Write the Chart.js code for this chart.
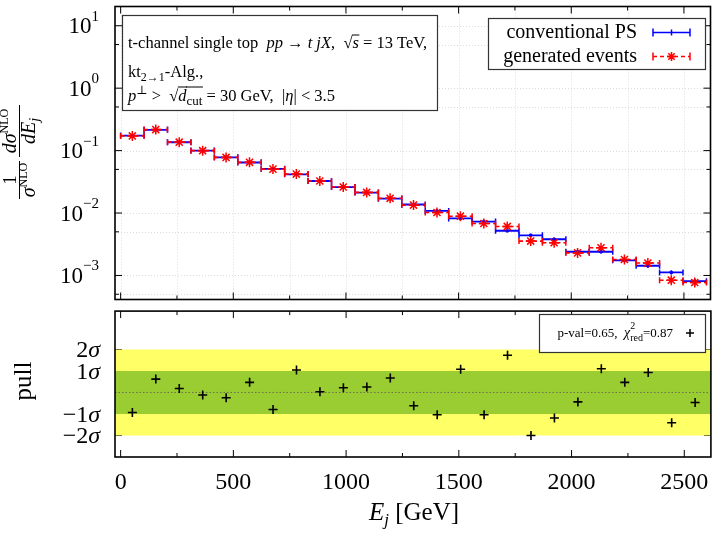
<!DOCTYPE html>
<html><head><meta charset="utf-8">
<script src="https://cdn.jsdelivr.net/npm/chart.js@4.4.0/dist/chart.umd.min.js"></script>
<style>
html,body{margin:0;padding:0;background:#fff;width:717px;height:536px;overflow:hidden}
canvas{position:absolute;left:0}
</style></head>
<body>
<canvas id="cTop" width="717" height="306" style="top:0px"></canvas>
<canvas id="cBot" width="717" height="231" style="top:305px"></canvas>
<script>
// ---------------- data ----------------
const binEdges = [0,104,208,312,416,520,624,728,832,936,1040,1144,1248,1352,1456,1560,1664,1768,1872,1976,2080,2184,2288,2392,2496,2600];
const convPS  = [0.174,0.215,0.136,0.100,0.078,0.0645,0.051,0.0417,0.0326,0.0260,0.0213,0.0170,0.0137,0.0108,0.0082,0.0073,0.0052,0.0044,0.0038,0.0024,0.0024,0.00175,0.00143,0.00112,0.00081];
const convErr = [0.0015,0.0017,0.0012,0.0009,0.0008,0.0007,0.0006,0.0005,0.00045,0.0004,0.00035,0.0003,0.00028,0.00025,0.00022,0.0002,0.00018,0.00016,0.00015,0.00012,0.00012,0.0001,0.00009,0.00008,0.00006];
const genEv   = [0.172,0.217,0.1365,0.0998,0.0778,0.0648,0.0505,0.0420,0.0326,0.0261,0.0214,0.0172,0.0134,0.0102,0.0089,0.0068,0.0061,0.00355,0.00335,0.00230,0.00278,0.00180,0.00158,0.00084,0.00077];
const genErr  = [0.0025,0.003,0.002,0.0015,0.0012,0.001,0.0009,0.0008,0.0007,0.0006,0.0005,0.00045,0.0004,0.00035,0.0003,0.00028,0.00025,0.0002,0.0002,0.00016,0.00018,0.00014,0.00013,0.0001,0.0001];
const pullVals = [-0.93,0.62,0.18,-0.12,-0.25,0.47,-0.79,1.04,0.03,0.22,0.25,0.67,-0.62,-1.04,1.08,-1.04,1.73,-2.0,-1.19,-0.44,1.10,0.47,0.93,-1.41,-0.47];
const xMajorTicks = [0,500,1000,1500,2000,2500];
const xMinorTicks = [250,750,1250,1750,2250];
const yMajorTicks = [1e-3,1e-2,1e-1,1,10];
const yMajorExp   = ['\u22123','\u22122','\u22121','0','1'];
const yMinorTicks = [5e-4,5e-3,5e-2,0.5,5];
const pullTicks = [-2,-1,1,2];
const pullTickLabels = ['\u22122','\u22121','1','2'];
const legendLabels = ['conventional PS','generated events'];
const pullLegend = {pval:'0.65', chi2:'0.87'};

// ---------------- axis ranges ----------------
const X_MIN = -25, X_MAX = 2618;
const Y_MIN = Math.pow(10,-3.385), Y_MAX = Math.pow(10,1.308);
const P_MIN = -3, P_MAX = 3.78;

const BLUE = '#0000ff', RED = '#ff0000';
const SER = '"Liberation Serif","DejaVu Serif",serif';
const fnt = (sz, st) => (st ? st + ' ' : '') + sz + 'px ' + SER;

const centers = binEdges.slice(0,-1).map((e,i)=>(e+binEdges[i+1])/2);
function stepData(vals){
  const d=[];
  vals.forEach((v,i)=>{ d.push({x:binEdges[i],y:v}); d.push({x:binEdges[i+1],y:v}); d.push({x:binEdges[i+1],y:null}); });
  return d;
}

// rich text: segs = [{t, f, dy, ov}]
function drawRich(ctx, x, y, segs, align){
  let w=0; segs.forEach(s=>{ctx.font=s.f; s.w=ctx.measureText(s.t).width; w+=s.w;});
  let cx = align==='right'? x-w : align==='center'? x-w/2 : x;
  ctx.textBaseline='alphabetic'; ctx.textAlign='left';
  segs.forEach(s=>{
    ctx.font=s.f; ctx.fillText(s.t, cx, y+(s.dy||0));
    if(s.ov!==undefined){ ctx.save(); ctx.lineWidth=1; ctx.beginPath(); ctx.moveTo(cx-0.5, y-s.ov); ctx.lineTo(cx+s.w+0.5, y-s.ov); ctx.stroke(); ctx.restore(); }
    cx+=s.w;
  });
  return w;
}
const S=(t,f,dy,ov)=>({t,f,dy,ov});

function starAt(ctx,x,y,r){
  ctx.beginPath();
  ctx.moveTo(x-r,y); ctx.lineTo(x+r,y); ctx.moveTo(x,y-r); ctx.lineTo(x,y+r);
  const k=r*0.7071; ctx.moveTo(x-k,y-k); ctx.lineTo(x+k,y+k); ctx.moveTo(x-k,y+k); ctx.lineTo(x+k,y-k);
  ctx.stroke();
}

function drawXTicks(ctx, xs, area, top, bottom){
  ctx.save(); ctx.strokeStyle='#000'; ctx.lineWidth=1;
  ctx.beginPath();
  xMajorTicks.forEach(v=>{const p=xs.getPixelForValue(v); if(top){ctx.moveTo(p,area.top);ctx.lineTo(p,area.top+7);} if(bottom){ctx.moveTo(p,area.bottom);ctx.lineTo(p,area.bottom-7);} });
  xMinorTicks.forEach(v=>{const p=xs.getPixelForValue(v); if(top){ctx.moveTo(p,area.top);ctx.lineTo(p,area.top+4);} if(bottom){ctx.moveTo(p,area.bottom);ctx.lineTo(p,area.bottom-4);} });
  ctx.stroke(); ctx.restore();
}
function drawFrame(ctx, area){
  ctx.save(); ctx.strokeStyle='#000'; ctx.lineWidth=1.6;
  ctx.strokeRect(area.left, area.top, area.right-area.left, area.bottom-area.top);
  ctx.restore();
}

// ---------------- top panel ----------------
const topPlugin = {
  id:'topPanel',
  beforeDatasetsDraw(chart){
    const {ctx, chartArea:a, scales:{x,y}} = chart;
    ctx.save(); ctx.strokeStyle='rgba(170,170,170,0.4)'; ctx.lineWidth=1; ctx.setLineDash([1,2]);
    ctx.beginPath();
    xMajorTicks.concat(xMinorTicks).forEach(v=>{const p=Math.round(x.getPixelForValue(v))+0.5; ctx.moveTo(p,a.top); ctx.lineTo(p,a.bottom);});
    yMajorTicks.concat(yMinorTicks).forEach(v=>{const p=Math.round(y.getPixelForValue(v))+0.5; if(p>a.top&&p<a.bottom){ctx.moveTo(a.left,p); ctx.lineTo(a.right,p);} });
    ctx.stroke(); ctx.restore();
  },
  afterDatasetsDraw(chart){
    const {ctx, scales:{x,y}} = chart;
    ctx.save(); ctx.lineWidth=1.5;
    ctx.strokeStyle=BLUE; ctx.beginPath();
    centers.forEach((c,i)=>{const px=x.getPixelForValue(c); ctx.moveTo(px,y.getPixelForValue(convPS[i]-convErr[i])); ctx.lineTo(px,y.getPixelForValue(convPS[i]+convErr[i]));});
    ctx.stroke();
    ctx.strokeStyle=RED; ctx.beginPath();
    centers.forEach((c,i)=>{const px=x.getPixelForValue(c); ctx.moveTo(px,y.getPixelForValue(genEv[i]-genErr[i])); ctx.lineTo(px,y.getPixelForValue(genEv[i]+genErr[i]));});
    ctx.stroke(); ctx.restore();
  },
  afterDraw(chart){
    const {ctx, chartArea:a, scales:{x,y}} = chart;
    drawFrame(ctx,a);
    drawXTicks(ctx,x,a,true,true);
    // y ticks
    ctx.save(); ctx.strokeStyle='#000'; ctx.lineWidth=1; ctx.beginPath();
    yMajorTicks.forEach(v=>{const p=y.getPixelForValue(v); ctx.moveTo(a.left,p);ctx.lineTo(a.left+7,p); ctx.moveTo(a.right,p);ctx.lineTo(a.right-7,p);});
    yMinorTicks.forEach(v=>{const p=y.getPixelForValue(v); if(p>a.top&&p<a.bottom){ctx.moveTo(a.left,p);ctx.lineTo(a.left+4,p); ctx.moveTo(a.right,p);ctx.lineTo(a.right-4,p);} });
    ctx.stroke(); ctx.restore();
    // y tick labels
    ctx.save(); ctx.fillStyle='#000';
    yMajorTicks.forEach((v,i)=>{
      const p=y.getPixelForValue(v);
      drawRich(ctx, a.left-16, p+7.5, [S('10',fnt(23)), S(yMajorExp[i],fnt(15),-12.5)], 'right');
    });
    // y title (rotated fraction)
    ctx.translate(19,152); ctx.rotate(-Math.PI/2);
    drawRich(ctx, -28, -3, [S('1',fnt(19))], 'center');
    drawRich(ctx, -28, 16, [S('\u03c3',fnt(20,'italic')), S('NLO',fnt(12),-8)], 'center');
    ctx.lineWidth=1; ctx.strokeStyle='#000';
    ctx.beginPath(); ctx.moveTo(-47,0.5); ctx.lineTo(-9,0.5); ctx.stroke();
    drawRich(ctx, 21, -3, [S('d\u03c3',fnt(20,'italic')), S('NLO',fnt(12),-8)], 'center');
    drawRich(ctx, 21, 16, [S('dE',fnt(20,'italic')), S('j',fnt(14,'italic'),4)], 'center');
    ctx.beginPath(); ctx.moveTo(-5,0.5); ctx.lineTo(47,0.5); ctx.stroke();
    ctx.restore();

    // info box
    ctx.save();
    ctx.fillStyle='#fff'; ctx.fillRect(122,15,315,95);
    ctx.strokeStyle='#333'; ctx.lineWidth=1.2; ctx.strokeRect(122.5,15.5,315,95);
    ctx.fillStyle='#000'; ctx.strokeStyle='#000';
    const N=fnt(16.5), I=fnt(16.5,'italic'), sm=fnt(12);
    drawRich(ctx,128,48,[S('t-channel single top  ',N),S('pp',I),S(' \u2192 ',N),S('t jX',I),S(',  ',N),S('\u221a',N),S('s',I,0,13),S(' = 13 TeV,',N)]);
    drawRich(ctx,128,77,[S('kt',N),S('2\u21921',sm,4),S('-Alg.,',N)]);
    drawRich(ctx,128,101,[S('p',I),S('\u22a5',sm,-7),S(' >  ',N),S('\u221a',N),S('d',I,0,14),S('cut',fnt(13),4,14),S(' = 30 GeV,  ',N),S('|',N),S('\u03b7',I),S('|',N),S(' < 3.5',N)]);
    ctx.restore();

    // legend
    ctx.save();
    ctx.fillStyle='#fff'; ctx.fillRect(488,18,217,51);
    ctx.strokeStyle='#333'; ctx.lineWidth=1.2; ctx.strokeRect(488.5,18.5,217,51);
    ctx.fillStyle='#000';
    drawRich(ctx,637,38,[S(legendLabels[0],fnt(20))],'right');
    drawRich(ctx,637,62,[S(legendLabels[1],fnt(20))],'right');
    ctx.lineWidth=1.5;
    ctx.strokeStyle=BLUE; ctx.beginPath();
    ctx.moveTo(653,32.5); ctx.lineTo(690,32.5);
    ctx.moveTo(653,28.5); ctx.lineTo(653,36.5); ctx.moveTo(690,28.5); ctx.lineTo(690,36.5);
    ctx.moveTo(671.5,29.5); ctx.lineTo(671.5,35.5);
    ctx.stroke();
    ctx.strokeStyle=RED; ctx.setLineDash([4,3]); ctx.beginPath();
    ctx.moveTo(653,56.5); ctx.lineTo(690,56.5); ctx.stroke(); ctx.setLineDash([]);
    ctx.beginPath(); ctx.moveTo(653,52.5); ctx.lineTo(653,60.5); ctx.moveTo(690,52.5); ctx.lineTo(690,60.5); ctx.stroke();
    starAt(ctx,671.5,56.5,4.5);
    ctx.restore();
  }
};

new Chart(document.getElementById('cTop'), {
  type:'line',
  data:{datasets:[
    {label:'gen markers', data:centers.map((c,i)=>({x:c,y:genEv[i]})), showLine:false, pointStyle:'star', pointRadius:5, pointBorderColor:RED, pointBorderWidth:1.5, borderColor:RED, order:0},
    {label:'gen bins', data:stepData(genEv), borderColor:RED, borderWidth:1.6, borderDash:[4,3], fill:false, pointStyle:'line', pointRotation:90, pointRadius:3, pointBorderColor:RED, pointBorderWidth:1.5, order:1},
    {label:'conv markers', data:centers.map((c,i)=>({x:c,y:convPS[i]})), showLine:false, pointStyle:'circle', pointRadius:1.5, pointBackgroundColor:BLUE, pointBorderColor:BLUE, pointBorderWidth:1, borderColor:BLUE, order:2},
    {label:'conv bins', data:stepData(convPS), borderColor:BLUE, borderWidth:1.8, fill:false, pointStyle:'line', pointRotation:90, pointRadius:3, pointBorderColor:BLUE, pointBorderWidth:1.5, order:3}
  ]},
  options:{
    responsive:false, animation:false, spanGaps:false,
    layout:{padding:{left:115, right:3.5, top:0, bottom:1}},
    plugins:{legend:{display:false}, tooltip:{enabled:false}},
    scales:{
      x:{type:'linear', display:false, min:X_MIN, max:X_MAX, bounds:'data'},
      y:{type:'logarithmic', display:false, min:Y_MIN, max:Y_MAX, bounds:'data'}
    }
  },
  plugins:[topPlugin]
});

// ---------------- pull panel ----------------
const botPlugin = {
  id:'botPanel',
  beforeDatasetsDraw(chart){
    const {ctx, chartArea:a, scales:{y}} = chart;
    ctx.save(); ctx.strokeStyle='#000'; ctx.lineWidth=1; ctx.beginPath();
    pullTicks.concat([0]).forEach(v=>{const p=Math.round(y.getPixelForValue(v))+0.5; ctx.moveTo(a.left,p);ctx.lineTo(a.left+7,p); ctx.moveTo(a.right,p);ctx.lineTo(a.right-7,p);});
    ctx.stroke(); ctx.restore();
  },
  afterDraw(chart){
    const {ctx, chartArea:a, scales:{x,y}} = chart;
    drawFrame(ctx,a);
    drawXTicks(ctx,x,a,true,true);
    ctx.save(); ctx.fillStyle='#000';
    pullTicks.forEach((v,i)=>{
      const p=y.getPixelForValue(v);
      drawRich(ctx, a.left-15, p+8, [S(pullTickLabels[i],fnt(24)), S('\u03c3',fnt(24,'italic'))], 'right');
    });
    xMajorTicks.forEach(v=>{
      drawRich(ctx, x.getPixelForValue(v), a.bottom+32, [S(String(v),fnt(24))], 'center');
    });
    drawRich(ctx, 414, a.bottom+63, [S('E',fnt(25,'italic')), S('j',fnt(17,'italic'),5), S(' [GeV]',fnt(25))], 'center');
    ctx.save(); ctx.translate(31, 381-305); ctx.rotate(-Math.PI/2);
    drawRich(ctx, 0, 0, [S('pull',fnt(25))], 'center');
    ctx.restore();
    // pull legend
    ctx.fillStyle='#fff'; ctx.fillRect(539,9,166,38);
    ctx.strokeStyle='#333'; ctx.lineWidth=1.2; ctx.strokeRect(539.5,9.5,166,38);
    ctx.fillStyle='#000';
    drawRich(ctx, 673, 32, [S('p-val='+pullLegend.pval+',  ',fnt(13)), S('\u03c7',fnt(14,'italic')), S('red',fnt(10),4), S('='+pullLegend.chi2,fnt(13))], 'right');
    ctx.restore();
    ctx.save(); ctx.fillStyle='#000';
    ctx.font=fnt(13); const wTail=ctx.measureText('='+pullLegend.chi2).width;
    ctx.font=fnt(10); const wRed=ctx.measureText('red').width;
    ctx.fillText('2', 673 - wTail - wRed, 32-8);
    ctx.strokeStyle='#000'; ctx.lineWidth=1.5; ctx.beginPath();
    ctx.moveTo(686,28); ctx.lineTo(694,28); ctx.moveTo(690,24); ctx.lineTo(690,32); ctx.stroke();
    ctx.restore();
  }
};

new Chart(document.getElementById('cBot'), {
  type:'line',
  data:{datasets:[
    {label:'pull', data:centers.map((c,i)=>({x:c,y:pullVals[i]})), showLine:false, pointStyle:'cross', pointRadius:4.5, pointBorderColor:'#000', pointBorderWidth:1.6, borderColor:'#000', order:0},
    {label:'zero', data:[{x:X_MIN,y:0},{x:X_MAX,y:0}], borderColor:'#555', borderWidth:0.8, borderDash:[1.5,2], pointRadius:0, fill:false, order:1},
    {label:'1 sigma', data:[{x:X_MIN,y:1},{x:X_MAX,y:1}], borderWidth:0, pointRadius:0, fill:{value:-1}, backgroundColor:'#9acd32', order:2},
    {label:'2 sigma', data:[{x:X_MIN,y:2},{x:X_MAX,y:2}], borderWidth:0, pointRadius:0, fill:{value:-2}, backgroundColor:'#ffff66', order:3}
  ]},
  options:{
    responsive:false, animation:false,
    layout:{padding:{left:115, right:3.5, top:0, bottom:79}},
    plugins:{legend:{display:false}, tooltip:{enabled:false}},
    scales:{
      x:{type:'linear', display:false, min:X_MIN, max:X_MAX, bounds:'data'},
      y:{type:'linear', display:false, min:P_MIN, max:P_MAX, bounds:'data'}
    }
  },
  plugins:[botPlugin]
});
</script>
</body></html>
